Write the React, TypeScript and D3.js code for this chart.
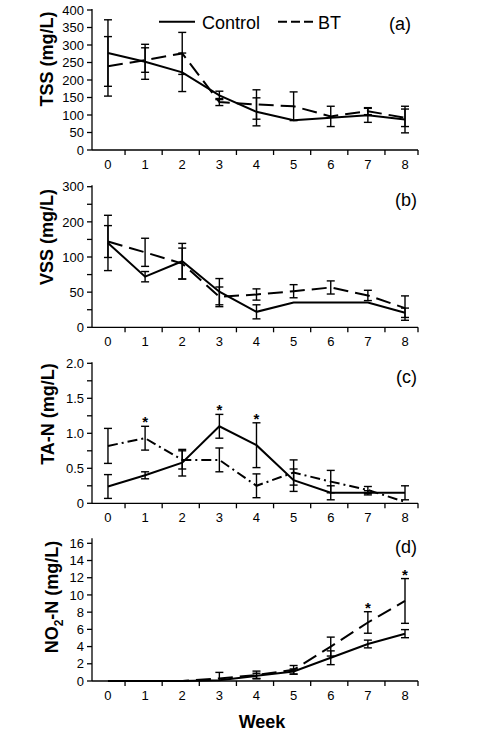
import React from "react";
import * as d3 from "d3";

const W = 486;
const H = 735;
const FONT = "'Liberation Sans', Arial, Helvetica, sans-serif";

// ---------- data ----------
const weeks = [0, 1, 2, 3, 4, 5, 6, 7, 8];
const weekTickLabels = ["0", "1", "2", "3", "4", "5", "6", "7", "8"];
const seriesNames = ["Control", "BT"];

// (a) TSS (mg/L)
const tssControl = [277, 252, 222, 156, 109, 85, 92, 99, 87];
const tssControlErr = [95, 50, 55, 12, 40, 0, 0, 20, 38];
const tssBT = [239, 257, 276, 137, 130, 125, 96, 111, 92];
const tssBTErr = [85, 35, 60, 10, 42, 41, 29, 10, 25];
const tssTicks = [0, 50, 100, 150, 200, 250, 300, 350, 400];
const tssTickLabels = ["0", "50", "100", "150", "200", "250", "300", "350", "400"];

// (b) VSS (mg/L)
const vssControl = [180, 108, 141, 76, 33, 53, 53, 53, 31];
const vssControlErr = [59, 11, 38, 28, 15, 0, 0, 0, 10];
const vssBT = [183, 160, 136, 65, 70, 77, 85, 68, 41];
const vssBTErr = [34, 30, 33, 21, 12, 14, 14, 11, 26];
const vssTicks = [0, 37.5, 75, 112.5, 150, 187.5, 225, 262.5, 300];
const vssTickLabels = ["0", "", "50", "", "100", "", "200", "", "300"];

// (c) TA-N (mg/L)
const tanControl = [0.24, 0.4, 0.58, 1.1, 0.83, 0.33, 0.15, 0.15, 0.15];
const tanControlErr = [0.17, 0.05, 0.19, 0.17, 0.32, 0.16, 0.1, 0.03, 0.1];
const tanBT = [0.82, 0.93, 0.62, 0.62, 0.25, 0.44, 0.31, 0.19, 0.02];
const tanBTErr = [0.25, 0.17, 0.13, 0.17, 0.17, 0.18, 0.16, 0.05, 0];
const tanTicks = [0, 0.25, 0.5, 0.75, 1, 1.25, 1.5, 1.75, 2];
const tanTickLabels = ["0", "", "0.5", "", "1.0", "", "1.5", "", "2.0"];
const tanStars = [1, 3, 4];

// (d) NO2-N (mg/L)
const no2Control = [0, 0, 0, 0.1, 0.6, 1.1, 2.7, 4.3, 5.5];
const no2ControlErr = [0, 0, 0, 0, 0.3, 0.3, 0.8, 0.45, 0.47];
const no2BT = [0, 0, 0, 0.3, 0.7, 1.3, 4.0, 6.8, 9.3];
const no2BTErr = [0, 0, 0, 0.7, 0.45, 0.5, 1.1, 1.25, 2.6];
const no2Ticks = [0, 2, 4, 6, 8, 10, 12, 14, 16];
const no2TickLabels = ["0", "2", "4", "6", "8", "10", "12", "14", "16"];
const no2Stars = [7, 8];

// ---------- layout ----------
const X0 = 92;
const X1 = 418;
const x = d3.scaleLinear().domain([-0.43, 8.35]).range([X0, X1]);
const xBoundaries = [0.46, 1.46, 2.46, 3.46, 4.46, 5.46, 6.46, 7.46, 8.35];

type Panel = {
  key: string;
  letter: string;
  domain: [number, number];
  range: [number, number];
  ticks: number[];
  tickLabels: string[];
  title: React.ReactNode;
  titleX: number;
  titleY: number;
  control: number[];
  controlErr: number[];
  bt: number[];
  btErr: number[];
  btDash: string;
  stars: number[];
  letterX: number;
  letterY: number;
  topExtra: number;
};

const panels: Panel[] = [
  {
    key: "a", letter: "(a)", domain: [0, 400], range: [150, 10],
    ticks: tssTicks, tickLabels: tssTickLabels,
    title: "TSS (mg/L)", titleX: 47, titleY: 59,
    control: tssControl, controlErr: tssControlErr, bt: tssBT, btErr: tssBTErr,
    btDash: "15,7", stars: [], letterX: 411, letterY: 29.5, topExtra: 1,
  },
  {
    key: "b", letter: "(b)", domain: [0, 300], range: [327.3, 186.7],
    ticks: vssTicks, tickLabels: vssTickLabels,
    title: "VSS (mg/L)", titleX: 47, titleY: 237,
    control: vssControl, controlErr: vssControlErr, bt: vssBT, btErr: vssBTErr,
    btDash: "15,7", stars: [], letterX: 417, letterY: 206, topExtra: 1.5,
  },
  {
    key: "c", letter: "(c)", domain: [0, 2], range: [503.3, 363.3],
    ticks: tanTicks, tickLabels: tanTickLabels,
    title: "TA-N (mg/L)", titleX: 48, titleY: 414,
    control: tanControl, controlErr: tanControlErr, bt: tanBT, btErr: tanBTErr,
    btDash: "10,4,2,4", stars: tanStars, letterX: 417, letterY: 383, topExtra: 1,
  },
  {
    key: "d", letter: "(d)", domain: [0, 16], range: [681, 543.3],
    ticks: no2Ticks, tickLabels: no2TickLabels,
    title: (
      <>
        NO<tspan fontSize="12" dy="5">2</tspan>
        <tspan dy="-5">-N (mg/L)</tspan>
      </>
    ),
    titleX: 52, titleY: 597,
    control: no2Control, controlErr: no2ControlErr, bt: no2BT, btErr: no2BTErr,
    btDash: "15,7", stars: no2Stars, letterX: 417, letterY: 553, topExtra: 5,
  },
];

function ErrorBars({ y, vals, errs, domain }: { y: d3.ScaleLinear<number, number>; vals: number[]; errs: number[]; domain: [number, number] }) {
  return (
    <g stroke="#000" strokeWidth={1.4} fill="none">
      {weeks.map((w, i) => {
        const e = errs[i];
        if (!e) return null;
        const lo = Math.max(domain[0], vals[i] - e);
        const hi = vals[i] + e;
        const cx = x(w);
        return (
          <g key={i}>
            <line x1={cx} x2={cx} y1={y(lo)} y2={y(hi)} />
            <line x1={cx - 4} x2={cx + 4} y1={y(hi)} y2={y(hi)} />
            {vals[i] - e >= domain[0] && <line x1={cx - 4} x2={cx + 4} y1={y(lo)} y2={y(lo)} />}
          </g>
        );
      })}
    </g>
  );
}

function PanelView({ p }: { p: Panel }) {
  const y = d3.scaleLinear().domain(p.domain).range(p.range);
  const line = d3
    .line<number>()
    .x((_, i) => x(weeks[i]))
    .y((v) => y(v));
  const yTop = y(p.domain[1]) - p.topExtra;
  const yBase = y(p.domain[0]);
  return (
    <g>
      {/* axes */}
      <g stroke="#000" strokeWidth={1.3} fill="none">
        <line x1={X0} x2={X0} y1={yTop} y2={yBase} />
        <line x1={X0} x2={X1} y1={yBase} y2={yBase} />
        {p.ticks.map((t, i) => (
          <line key={"yt" + i} x1={X0 - 5} x2={X0} y1={y(t)} y2={y(t)} />
        ))}
        {xBoundaries.map((b, i) => (
          <line key={"xt" + i} x1={x(b)} x2={x(b)} y1={yBase} y2={yBase + 5} />
        ))}
      </g>
      <g fontFamily={FONT} fontSize={13} fill="#000" textAnchor="end">
        {p.ticks.map((t, i) =>
          p.tickLabels[i] ? (
            <text key={"yl" + i} x={X0 - 8} y={y(t)} dy="0.36em">
              {p.tickLabels[i]}
            </text>
          ) : null
        )}
      </g>
      <g fontFamily={FONT} fontSize={13} fill="#000" textAnchor="middle">
        {weeks.map((w, i) => (
          <text key={"xl" + i} x={x(w)} y={yBase + 14} dy="0.36em">
            {weekTickLabels[i]}
          </text>
        ))}
      </g>
      {/* title */}
      <text
        transform={`translate(${p.titleX},${p.titleY}) rotate(-90)`}
        textAnchor="middle"
        dy="0.36em"
        fontFamily={FONT}
        fontSize={18}
        fontWeight="bold"
      >
        {p.title}
      </text>
      {/* series */}
      <path d={line(p.bt) || ""} fill="none" stroke="#000" strokeWidth={2} strokeDasharray={p.btDash} />
      <path d={line(p.control) || ""} fill="none" stroke="#000" strokeWidth={2} />
      <ErrorBars y={y} vals={p.bt} errs={p.btErr} domain={p.domain} />
      <ErrorBars y={y} vals={p.control} errs={p.controlErr} domain={p.domain} />
      {/* significance stars */}
      <g fontFamily={FONT} fontSize={15} fontWeight="bold" textAnchor="middle">
        {p.stars.map((w) => {
          const top = Math.max(p.control[w] + p.controlErr[w], p.bt[w] + p.btErr[w]);
          return (
            <text key={"s" + w} x={x(w)} y={y(top) + 1}>
              *
            </text>
          );
        })}
      </g>
      <text x={p.letterX} y={p.letterY} textAnchor="end" fontFamily={FONT} fontSize={18}>
        {p.letter}
      </text>
    </g>
  );
}

export default function App() {
  return (
    <svg
      width={W}
      height={H}
      viewBox={`0 0 ${W} ${H}`}
      style={{ position: "absolute", left: 0, top: 0, background: "#fff" }}
    >
      <rect width={W} height={H} fill="#fff" />
      {panels.map((p) => (
        <PanelView key={p.key} p={p} />
      ))}
      {/* legend */}
      <g fontFamily={FONT} fontSize={18}>
        <line x1={159} x2={195} y1={21.7} y2={21.7} stroke="#000" strokeWidth={2} />
        <text x={202} y={28.5}>{seriesNames[0]}</text>
        <line x1={278} x2={313} y1={21.7} y2={21.7} stroke="#000" strokeWidth={2} strokeDasharray="9,4" />
        <text x={318} y={28.5}>{seriesNames[1]}</text>
      </g>
      <text x={262} y={728} textAnchor="middle" fontFamily={FONT} fontSize={18} fontWeight="bold">
        Week
      </text>
    </svg>
  );
}
